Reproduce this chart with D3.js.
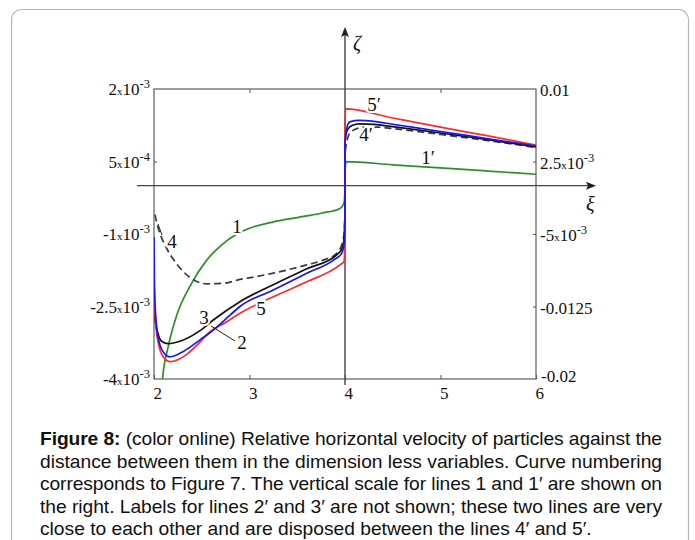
<!DOCTYPE html>
<html><head><meta charset="utf-8">
<script src="https://cdn.jsdelivr.net/npm/d3@7"></script>
<style>body{margin:0;background:#fff;} svg{display:block;}</style>
</head><body>
<svg id="c" width="695" height="540"></svg>
<script>
// ---- data (values of zeta in units of 1e-3) ----
const xTickValues = [2, 3, 4, 5, 6];
const leftTickValues = [2, 0.5, -1, -2.5, -4];
const leftTickLabels = [["2", "-3"], ["5", "-4"], ["-1", "-3"], ["-2.5", "-3"], ["-4", "-3"]];
const rightTickValues = [10, 2.5, -5, -12.5, -20];
const rightTickLabels = [["0.01", null], ["2.5", "-3"], ["-5", "-3"], ["-0.0125", null], ["-0.02", null]];

// curve 1 / 1' (green) -- right scale
const curve1 = [[2.080,-21],[2.091,-19.8],[2.15,-16.6],[2.238,-13.4],[2.377,-10.4],[2.552,-7.7],[2.70,-6.2],[2.85,-5.1],[3.0,-4.4],[3.25,-3.75],[3.5,-3.3],[3.75,-2.85],[3.948,-2.35],[3.99,-1.79],[3.999,-0.5],[4.0,1.3],[4.012,2.48],[4.5,2.16],[5.0,1.84],[5.5,1.51],[6.0,1.18]];
// curve 2 / 2' (blue) -- left scale
const curve2 = [[2.0,-1.06],[2.004,-2.0],[2.02,-2.75],[2.05,-3.2],[2.1,-3.45],[2.17,-3.54],[2.307,-3.43],[2.482,-3.19],[2.621,-2.99],[2.796,-2.68],[2.9,-2.50],[3.249,-2.16],[3.6,-1.81],[3.88,-1.54],[3.965,-1.40],[3.99,-1.2],[3.999,-0.7],[4.0,0.88],[4.02,1.2],[4.05,1.32],[4.15,1.35],[4.3,1.33],[4.5,1.27],[5.0,1.12],[5.5,0.97],[6.0,0.82]];
// curve 3 / 3' (black solid) -- left scale
const curve3 = [[2.0,-2.3],[2.01,-2.75],[2.04,-3.05],[2.08,-3.22],[2.15,-3.27],[2.272,-3.22],[2.482,-3.0],[2.621,-2.78],[2.9,-2.40],[3.249,-2.05],[3.6,-1.72],[3.913,-1.43],[3.97,-1.30],[3.99,-1.1],[3.999,-0.6],[4.0,0.95],[4.03,1.17],[4.08,1.25],[4.15,1.28],[4.3,1.27],[4.5,1.22],[5.0,1.09],[5.5,0.95],[6.0,0.80]];
// curve 4 / 4' (black dashed) -- left scale
const curve4 = [[2.01,-0.6],[2.04,-0.85],[2.08,-1.08],[2.133,-1.3],[2.238,-1.62],[2.377,-1.90],[2.552,-2.03],[2.726,-2.02],[2.90,-1.94],[3.075,-1.88],[3.249,-1.81],[3.424,-1.73],[3.599,-1.64],[3.773,-1.54],[3.913,-1.40],[3.965,-1.23],[3.99,-1.0],[3.999,-0.6],[4.0,0.65],[4.04,1.05],[4.1,1.16],[4.2,1.21],[4.35,1.21],[4.5,1.18],[5.0,1.06],[5.5,0.93],[6.0,0.79]];
// curve 5 / 5' (red) -- left scale
const curve5 = [[2.0,-1.9],[2.005,-2.4],[2.02,-2.9],[2.05,-3.3],[2.1,-3.55],[2.17,-3.64],[2.25,-3.6],[2.35,-3.48],[2.45,-3.3],[2.586,-3.02],[2.75,-2.83],[2.90,-2.64],[3.249,-2.30],[3.6,-1.99],[3.948,-1.64],[3.99,-1.57],[3.999,-1.2],[4.0,1.0],[4.005,1.59],[4.5,1.40],[5.0,1.21],[5.5,1.03],[6.0,0.84]];

const captionLines = [
  ["Figure 8:", " (color online) Relative horizontal velocity of particles against the"],
  [null, "distance between them in the dimension less variables. Curve numbering"],
  [null, "corresponds to Figure 7. The vertical scale for lines 1 and 1\u2032 are shown on"],
  [null, "the right. Labels for lines 2\u2032 and 3\u2032 are not shown; these two lines are very"],
  [null, "close to each other and are disposed between the lines 4\u2032 and 5\u2032."]
];

// ---- drawing ----
const svg = d3.select("#c");
const serif = "'Liberation Serif','Times New Roman',serif";
const sans = "'Liberation Sans',Arial,sans-serif";

svg.append("rect").attr("x", 11.5).attr("y", 9.5).attr("width", 677).attr("height", 580)
  .attr("rx", 10).attr("fill", "#fff").attr("stroke", "#b5b5b5").attr("stroke-width", 1.2);

const x = d3.scaleLinear([2, 6], [154, 536]);
const yL = d3.scaleLinear([-4, 2], [379, 89]);
const yR = d3.scaleLinear([-20, 10], [379, 89]);

// frame
svg.append("rect").attr("x", x(2)).attr("y", yL(2)).attr("width", x(6) - x(2)).attr("height", yL(-4) - yL(2))
  .attr("fill", "none").attr("stroke", "#6a6a6a").attr("stroke-width", 1.3);

// ticks via axes
const gb = svg.append("g").attr("transform", `translate(0,${yL(-4)})`)
  .call(d3.axisBottom(x).tickValues(xTickValues).tickSize(-4).tickPadding(10).tickFormat(d3.format("d")));
gb.select(".domain").remove();
gb.selectAll("line").attr("stroke", "#555");
gb.selectAll("text").attr("text-anchor", "start").attr("dx", -1).attr("dy", "0.6em")
  .style("font-family", serif).style("font-size", "17px").attr("fill", "#111");

const gt = svg.append("g").attr("transform", `translate(0,${yL(2)})`)
  .call(d3.axisTop(x).tickValues([3, 5]).tickSize(-4).tickFormat(""));
gt.select(".domain").remove();
gt.selectAll("line").attr("stroke", "#555");

const gl = svg.append("g").attr("transform", `translate(${x(2)},0)`)
  .call(d3.axisLeft(yL).tickValues([0.5]).tickSize(-3).tickFormat(""));
gl.select(".domain").remove();
gl.selectAll("line").attr("stroke", "#555");

const gr = svg.append("g").attr("transform", `translate(${x(6)},0)`)
  .call(d3.axisRight(yR).tickValues([2.5, -5, -12.5]).tickSize(-3).tickFormat(""));
gr.select(".domain").remove();
gr.selectAll("line").attr("stroke", "#555");

function sciLabel(sel, base, exp) {
  sel.append("tspan").text(base);
  if (exp === null) return;
  sel.append("tspan").text("x").style("font-size", "11px");
  sel.append("tspan").text("10");
  sel.append("tspan").text(exp).style("font-size", "12.5px").attr("dy", -7);
}
leftTickValues.forEach((v, i) => {
  const t = svg.append("text").attr("x", 150).attr("y", yL(v) + 6)
    .attr("text-anchor", "end").style("font-family", serif).style("font-size", "17px").attr("fill", "#111");
  sciLabel(t, leftTickLabels[i][0], leftTickLabels[i][1]);
});
rightTickValues.forEach((v, i) => {
  const t = svg.append("text").attr("x", i === 4 ? 541 : 540).attr("y", yR(v) + (i === 4 ? 3 : 7))
    .attr("text-anchor", "start").style("font-family", serif).style("font-size", "17px").attr("fill", "#111");
  sciLabel(t, rightTickLabels[i][0], rightTickLabels[i][1]);
});

// coordinate axes with arrows
const y0 = yL(0);
svg.append("line").attr("x1", 137).attr("x2", 590).attr("y1", y0).attr("y2", y0)
  .attr("stroke", "#444").attr("stroke-width", 1.4);
svg.append("path").attr("d", `M596,${y0} L586,${y0 - 4} L588,${y0} L586,${y0 + 4} Z`).attr("fill", "#222");
svg.append("line").attr("x1", x(4)).attr("x2", x(4)).attr("y1", 32).attr("y2", 385)
  .attr("stroke", "#444").attr("stroke-width", 1.4);
svg.append("path").attr("d", `M${x(4)},27 L${x(4) - 4},37 L${x(4)},35 L${x(4) + 4},37 Z`).attr("fill", "#222");
svg.append("text").attr("x", 353).attr("y", 50).text("\u03B6")
  .style("font-family", serif).style("font-style", "italic").style("font-size", "20px").attr("fill", "#111");
svg.append("text").attr("x", 586).attr("y", 211).text("\u03BE")
  .style("font-family", serif).style("font-style", "italic").style("font-size", "20px").attr("fill", "#111");

// curves
svg.append("clipPath").attr("id", "plotclip").append("rect")
  .attr("x", x(2)).attr("y", yL(2)).attr("width", x(6) - x(2)).attr("height", yL(-4) - yL(2));
const gc = svg.append("g").attr("clip-path", "url(#plotclip)");
const lineL = d3.line().x(d => x(d[0])).y(d => yL(d[1])).curve(d3.curveMonotoneX);
const lineR = d3.line().x(d => x(d[0])).y(d => yR(d[1])).curve(d3.curveMonotoneX);
const series = [
  {data: curve1, gen: lineR, color: "#2b8f2b", dash: null},
  {data: curve4, gen: lineL, color: "#3a3a3a", dash: "7,4"},
  {data: curve3, gen: lineL, color: "#111", dash: null},
  {data: curve5, gen: lineL, color: "#ff2a2a", dash: null},
  {data: curve2, gen: lineL, color: "#1414ff", dash: null}
];
series.forEach(s => {
  gc.append("path").attr("d", s.gen(s.data)).attr("fill", "none").attr("stroke", s.color)
    .attr("stroke-width", 1.7).attr("stroke-dasharray", s.dash);
});

// curve labels
const labels = [
  {t: "1", x: 237, y: 233}, {t: "3", x: 204, y: 324}, {t: "2", x: 242, y: 349},
  {t: "5", x: 261, y: 315}, {t: "4", x: 172, y: 248},
  {t: "5\u2032", x: 374, y: 111}, {t: "4\u2032", x: 366, y: 141}, {t: "1\u2032", x: 428, y: 164}
];
labels.forEach(l => {
  svg.append("text").attr("x", l.x).attr("y", l.y).attr("text-anchor", "middle").text(l.t)
    .style("font-family", serif).style("font-size", "19px").attr("fill", "#111")
    .attr("stroke", "#fff").attr("stroke-width", 4).attr("paint-order", "stroke");
});
svg.append("line").attr("x1", 211).attr("y1", 326).attr("x2", 235).attr("y2", 341).attr("stroke", "#222").attr("stroke-width", 1);
svg.append("line").attr("x1", 158).attr("y1", 224).attr("x2", 162).attr("y2", 235).attr("stroke", "#222").attr("stroke-width", 1);

// caption
const capX = 40, capW = 622, lastW = 552;
const probe = svg.append("text").style("font-family", sans).style("font-size", "20px").text(captionLines[4][1]);
const fs = 20 * lastW / probe.node().getComputedTextLength();
probe.remove();
captionLines.forEach((ln, i) => {
  const t = svg.append("text").attr("x", capX).attr("y", 445 + i * 22.6)
    .style("font-family", sans).style("font-size", fs + "px").attr("fill", "#111");
  if (ln[0]) t.append("tspan").text(ln[0]).style("font-weight", "bold");
  t.append("tspan").text(ln[1]);
  if (i < 4) t.attr("textLength", capW).attr("lengthAdjust", "spacing");
});
</script>
</body></html>
